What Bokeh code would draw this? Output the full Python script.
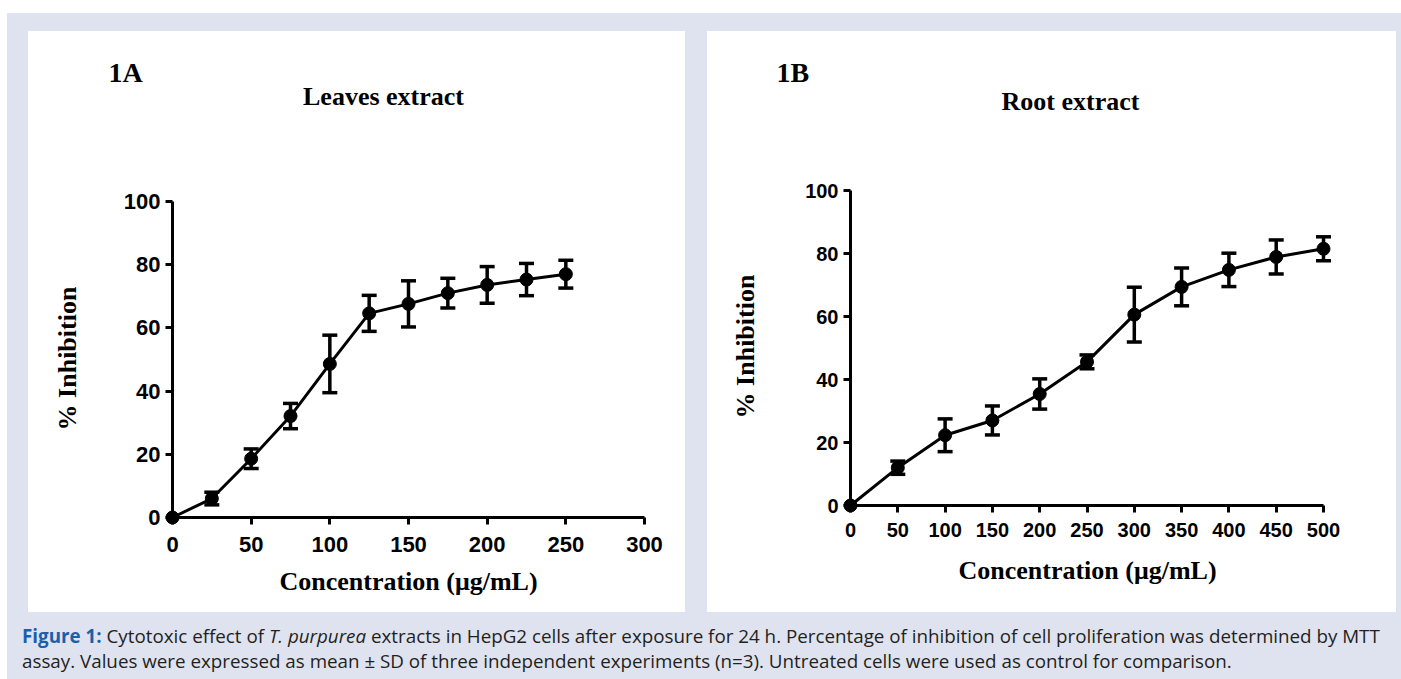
import math
from bokeh.plotting import figure
from bokeh.models import Range1d, FixedTicker, Div, Spacer
from bokeh.layouts import row, column
from bokeh.embed import file_html
from bokeh.resources import INLINE
from bokeh.core.properties import value

# ---------------- data ----------------
leaf_conc = [0, 25, 50, 75, 100, 125, 150, 175, 200, 225, 250]
leaf_inh = [0, 6.0, 18.6, 32.1, 48.6, 64.6, 67.6, 71.0, 73.6, 75.3, 77.0]
leaf_sd = [0, 2.0, 3.1, 4.0, 9.1, 5.7, 7.3, 4.7, 5.8, 5.1, 4.4]

root_conc = [0, 50, 100, 150, 200, 250, 300, 350, 400, 450, 500]
root_inh = [0, 12.0, 22.3, 27.0, 35.4, 45.6, 60.6, 69.4, 74.8, 78.9, 81.5]
root_sd = [0, 2.1, 5.2, 4.6, 4.8, 2.2, 8.7, 6.0, 5.3, 5.4, 3.8]

leaf_xticks = [0, 50, 100, 150, 200, 250, 300]
root_xticks = [0, 50, 100, 150, 200, 250, 300, 350, 400, 450, 500]
yticks = [0, 20, 40, 60, 80, 100]

x_label = "Concentration (\u03bcg/mL)"
y_label = "% Inhibition"

LAV = "#dfe3f0"
SERIF = "Liberation Serif"
SANS = "Liberation Sans"

PANEL_TOP, PANEL_BOTTOM = 31, 612


def make_panel(px0, width, frame_x, axis_y, xmax, xticks, conc, inh, sd,
               tick_size, x_standoff, tag, title, pos):
    # frame_x: window x of value 0 and xmax; axis_y: window y of value 0 and 100
    fx0, fx1 = frame_x
    ay0, ay100 = axis_y
    per = (ay0 - ay100) / 100.0
    left = fx0 - px0
    right = width - (fx1 - px0)
    top = ay100 - PANEL_TOP
    bottom = PANEL_BOTTOM - ay0
    p = figure(width=width, height=PANEL_BOTTOM - PANEL_TOP,
               x_range=Range1d(0, xmax), y_range=Range1d(0, 100),
               output_backend="svg", toolbar_location=None,
               min_border_left=left, min_border_right=right,
               min_border_top=top, min_border_bottom=bottom,
               background_fill_color="white", border_fill_color="white",
               outline_line_color=None, margin=(0, 0, 0, 0))
    p.grid.visible = False
    for ax in (p.xaxis[0], p.yaxis[0]):
        ax.axis_line_width = 3
        ax.axis_line_color = "black"
        ax.major_tick_line_width = 3
        ax.major_tick_line_color = "black"
        ax.major_tick_out = 7
        ax.major_tick_in = 0
        ax.minor_tick_line_color = None
        ax.major_label_text_font = SANS
        ax.major_label_text_font_style = "bold"
        ax.major_label_text_font_size = f"{tick_size}px"
        ax.major_label_text_color = "black"
        ax.major_label_standoff = 5
    p.xaxis.ticker = FixedTicker(ticks=xticks)
    p.yaxis.ticker = FixedTicker(ticks=yticks)
    p.xaxis.major_label_standoff = x_standoff

    lo = [v - e for v, e in zip(inh, sd)]
    hi = [v + e for v, e in zip(inh, sd)]
    p.line(conc, inh, line_color="black", line_width=3, level="overlay")
    p.segment(conc, lo, conc, hi, line_color="black", line_width=3.5, level="overlay")
    cx = [c for c, e in zip(conc, sd) if e > 0]
    clo = [l for l, e in zip(lo, sd) if e > 0]
    chi = [h for h, e in zip(hi, sd) if e > 0]
    p.scatter(cx + cx, clo + chi, marker="dash", size=15, line_color="black",
              line_width=3.5, level="overlay")
    p.scatter(conc, inh, marker="circle", size=13, fill_color="black",
              line_color="black", level="overlay")

    # window pixel positions of the surrounding texts -> data units
    def to_data(wx, wy):
        return ((wx - fx0) / (fx1 - fx0) * xmax, (ay0 - wy) / per)

    def add_text(text, wx, wy, size, align="center", angle=0.0):
        x, y = to_data(wx, wy)
        p.text(x=[x], y=[y], text=[text], text_font=value(SERIF),
               text_font_style="bold", text_font_size=f"{size}px",
               text_align=align, text_baseline="middle", text_color="black",
               angle=angle, level="overlay")

    add_text(tag, *pos["tag"], 28, align="left")
    add_text(title, *pos["title"], 26)
    add_text(x_label, *pos["xlab"], 26)
    add_text(y_label, *pos["ylab"], 26, angle=math.pi / 2)
    return p


# panel 1A: window x 28..685 ; frame x 172..644 ; y value 0 at 517, 100 at 201
p1 = make_panel(28, 657, (172, 644), (517, 201), 300, leaf_xticks,
                leaf_conc, leaf_inh, leaf_sd, 22, 12, "1A", "Leaves extract",
                {"tag": (108, 72), "title": (383, 96),
                 "xlab": (408, 581), "ylab": (67, 358)})

# panel 1B: window x 707..1396 ; frame x 850..1323 ; y value 0 at 505, 100 at 190
p2 = make_panel(707, 689, (850, 1323), (505, 190), 500, root_xticks,
                root_conc, root_inh, root_sd, 20, 10, "1B", "Root extract",
                {"tag": (776, 72), "title": (1070, 101),
                 "xlab": (1087, 570), "ylab": (745, 346)})

caption_html = (
    '<div style="font-family:\'Open Sans\';font-size:18.8px;line-height:25px;'
    'padding:12px 0 0 15px;white-space:nowrap;color:#231f20;">'
    '<span style="color:#1b5faa;font-weight:bold;">Figure 1:</span> '
    'Cytotoxic effect of <i>T. purpurea</i> extracts in HepG2 cells after exposure for 24 h. '
    'Percentage of inhibition of cell proliferation was determined by MTT<br>'
    'assay. Values were expressed as mean \u00b1 SD of three independent experiments (n=3). '
    'Untreated cells were used as control for comparison.</div>'
)
caption = Div(text=caption_html, width=1394, height=67, margin=(0, 0, 0, 0),
              styles={"background-color": LAV, "overflow": "hidden"})


def lav_spacer(w, h):
    return Spacer(width=w, height=h, margin=(0, 0, 0, 0),
                  styles={"background-color": LAV})


# each figure sits in its own column so that the row does not align their frames
c1 = column(p1, spacing=0, styles={"background-color": "white"})
c2 = column(p2, spacing=0, styles={"background-color": "white"})

panels = row(lav_spacer(21, 581), c1, lav_spacer(22, 581), c2, lav_spacer(5, 581),
             spacing=0, styles={"background-color": LAV})

inner = column(lav_spacer(1394, 18), panels, caption,
               spacing=0, styles={"background-color": LAV})

page = column(Spacer(width=1401, height=13, margin=(0, 0, 0, 0)),
              row(Spacer(width=7, height=666, margin=(0, 0, 0, 0)), inner, spacing=0),
              spacing=0)

open("out.html", "w").write(file_html(page, INLINE))
